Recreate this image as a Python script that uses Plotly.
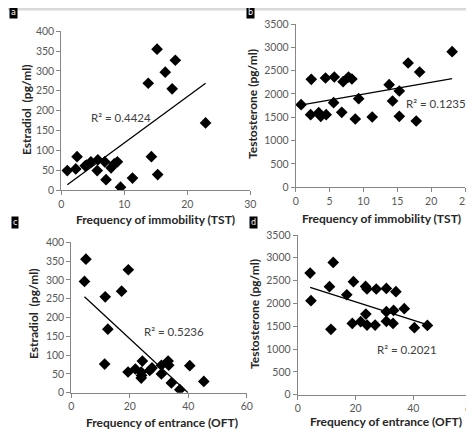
import plotly.graph_objects as go

W, H = 474, 433

# panel a: estradiol vs immobility (TST)
a_x = [0.95, 2.3, 2.5, 3.8, 4.0, 4.7, 5.7, 5.8, 6.9, 7.1, 7.9, 8.4, 8.9, 9.4,
       11.3, 13.8, 14.3, 15.2, 15.3, 16.5, 17.6, 18.1, 22.9]
a_y = [49, 53, 84, 61, 63, 71, 49, 76, 71, 26, 56, 66, 71, 7,
       30, 269, 84, 355, 39, 297, 255, 327, 169]
a_fit_x = [0.95, 22.9]
a_fit_y = [13, 269]

# panel b: testosterone vs immobility (TST)
b_x = [0.8, 2.2, 2.3, 3.4, 3.7, 4.4, 4.5, 5.6, 5.7, 6.8, 7.0, 7.8, 8.3, 8.8,
       9.3, 11.3, 13.8, 14.3, 15.3, 15.3, 16.6, 17.8, 18.3, 23.1]
b_y = [1771, 1557, 2314, 1600, 1521, 2343, 1557, 1814, 2364, 1607, 2264, 2364,
       2321, 1464, 1900, 1507, 2200, 1850, 2064, 1521, 2664, 1421, 2471, 2907]
b_fit_x = [0.5, 23.1]
b_fit_y = [1757, 2329]

# panel c: estradiol vs entrance (OFT)
c_x = [5.0, 4.5, 19.5, 17.2, 11.6, 12.5, 11.4, 19.4, 21.9, 24.3, 23.9, 23.9,
       24.0, 26.8, 27.6, 30.8, 30.8, 33.1, 33.3, 34.2, 37.1, 40.5, 45.3]
c_y = [355, 296, 327, 270, 255, 169, 76, 55, 63, 84, 55, 39,
       46, 59, 66, 73, 50, 84, 73, 26, 8, 72, 30]
c_fit_x = [4.5, 39.9]
c_fit_y = [255, 0]

# panel d: testosterone vs entrance (OFT)
d_x = [4.3, 4.6, 12.3, 11.0, 11.5, 17.0, 19.3, 18.9, 21.8, 23.5, 24.0, 23.6,
       24.0, 27.2, 26.8, 30.7, 30.7, 30.7, 33.2, 33.0, 34.0, 36.9, 40.4, 44.9]
d_y = [2666, 2060, 2900, 2367, 1432, 2191, 2476, 1563, 1600, 2374, 2316, 1768,
       1527, 2316, 1527, 2330, 1819, 1607, 1848, 1563, 2257, 1885, 1468, 1519]
d_fit_x = [4.3, 45.9]
d_fit_y = [2352, 1512]

r2_text = ["R² = 0.4424", "R² = 0.1235", "R² = 0.5236", "R² = 0.2021"]
r2_pos = [(9.5, 182), (20.7, 1806), (35.1, 163), (37.7, 980)]
x_titles = ["Frequency of immobility (TST)", "Frequency of immobility (TST)",
            "Frequency of entrance (OFT)", "Frequency of entrance (OFT)"]
y_titles = ["Estradiol  (pg/ml)", "Testosterone (pg/ml)",
            "Estradiol  (pg/ml)", "Testosterone (pg/ml)"]
panel_letters = ["a", "b", "c", "d"]

# pixel boxes of each plot area (left, right, top, bottom)
boxes = [(53.3, 242.3, 23.3, 182.0), (287.7, 457.0, 16.0, 179.3),
         (63.3, 238.8, 234.3, 384.7), (289.7, 463.0, 227.0, 386.7)]
x_ranges = [[0, 30], [0, 25], [0, 60], [0, 60]]
y_ranges = [[0, 400], [0, 3500], [0, 400], [0, 3500]]
x_dticks = [10, 5, 20, 20]
y_dticks = [50, 500, 50, 500]
xt_pos = [(147, 211), (373, 210), (154, 414), (378, 413)]
yt_pos = [(18, 102), (245, 96), (25, 306), (246, 306)]
letter_pos = [(5.5, 5), (243, 4.5), (7, 214), (245.5, 214.5)]

data = [(a_x, a_y, a_fit_x, a_fit_y), (b_x, b_y, b_fit_x, b_fit_y),
        (c_x, c_y, c_fit_x, c_fit_y), (d_x, d_y, d_fit_x, d_fit_y)]

FONT = "Lato"
AX_COL = "#868686"
TICK_COL = "#595959"

fig = go.Figure()
layout = {}
annotations = []

def px(x):
    return x / W

def py(y):
    return 1 - y / H

for i, (xs, ys, fx, fy) in enumerate(data):
    n = "" if i == 0 else str(i + 1)
    xa, ya = "x" + n, "y" + n
    fig.add_trace(go.Scatter(x=xs, y=ys, mode="markers", xaxis=xa, yaxis=ya,
                             marker=dict(symbol="diamond", size=9, color="black"),
                             showlegend=False, hoverinfo="skip"))
    fig.add_trace(go.Scatter(x=fx, y=fy, mode="lines", xaxis=xa, yaxis=ya,
                             line=dict(color="black", width=1.3),
                             showlegend=False, hoverinfo="skip"))
    l, r, t, b = boxes[i]
    common = dict(showgrid=False, zeroline=False, showline=True, linecolor=AX_COL,
                  linewidth=1, ticks="outside", ticklen=4, tickcolor=AX_COL,
                  tickfont=dict(family=FONT, size=10.5, color=TICK_COL),
                  fixedrange=True, automargin=False)
    layout["xaxis" + n] = dict(domain=[px(l), px(r)], range=x_ranges[i],
                               dtick=x_dticks[i], anchor=ya, **common)
    layout["yaxis" + n] = dict(domain=[py(b), py(t)], range=y_ranges[i],
                               dtick=y_dticks[i], anchor=xa, **common)
    annotations.append(dict(x=r2_pos[i][0], y=r2_pos[i][1], xref=xa, yref=ya,
                            xanchor="center", yanchor="middle",
                            text=r2_text[i], showarrow=False,
                            font=dict(family=FONT, size=11.5, color="#404040")))
    annotations.append(dict(x=px(xt_pos[i][0]), y=py(xt_pos[i][1]), xref="paper",
                            yref="paper", xanchor="center", yanchor="middle",
                            text="<b>" + x_titles[i] + "</b>",
                            showarrow=False,
                            font=dict(family=FONT, size=12, color="#262626")))
    annotations.append(dict(x=px(yt_pos[i][0]), y=py(yt_pos[i][1]), xref="paper",
                            yref="paper", xanchor="center", yanchor="middle",
                            text="<b>" + y_titles[i] + "</b>",
                            textangle=-90, showarrow=False,
                            font=dict(family=FONT, size=12, color="#262626")))
    annotations.append(dict(x=px(letter_pos[i][0]), y=py(letter_pos[i][1]),
                            xref="paper", yref="paper", xanchor="center",
                            yanchor="middle", text=panel_letters[i],
                            showarrow=False, bgcolor="black", borderpad=1,
                            font=dict(family="DejaVu Sans", size=8, color="white")))

fig.update_layout(**layout)
fig.update_layout(
    width=W, height=H,
    margin=dict(l=0, r=0, t=0, b=0, autoexpand=False),
    paper_bgcolor="white", plot_bgcolor="white",
    annotations=annotations,
    shapes=[dict(type="rect", xref="paper", yref="paper", x0=0, x1=1,
                 y0=py(2.5), y1=1, fillcolor="#d9d9d9", line=dict(width=0),
                 layer="below")],
)

fig.write_html("out.html")
